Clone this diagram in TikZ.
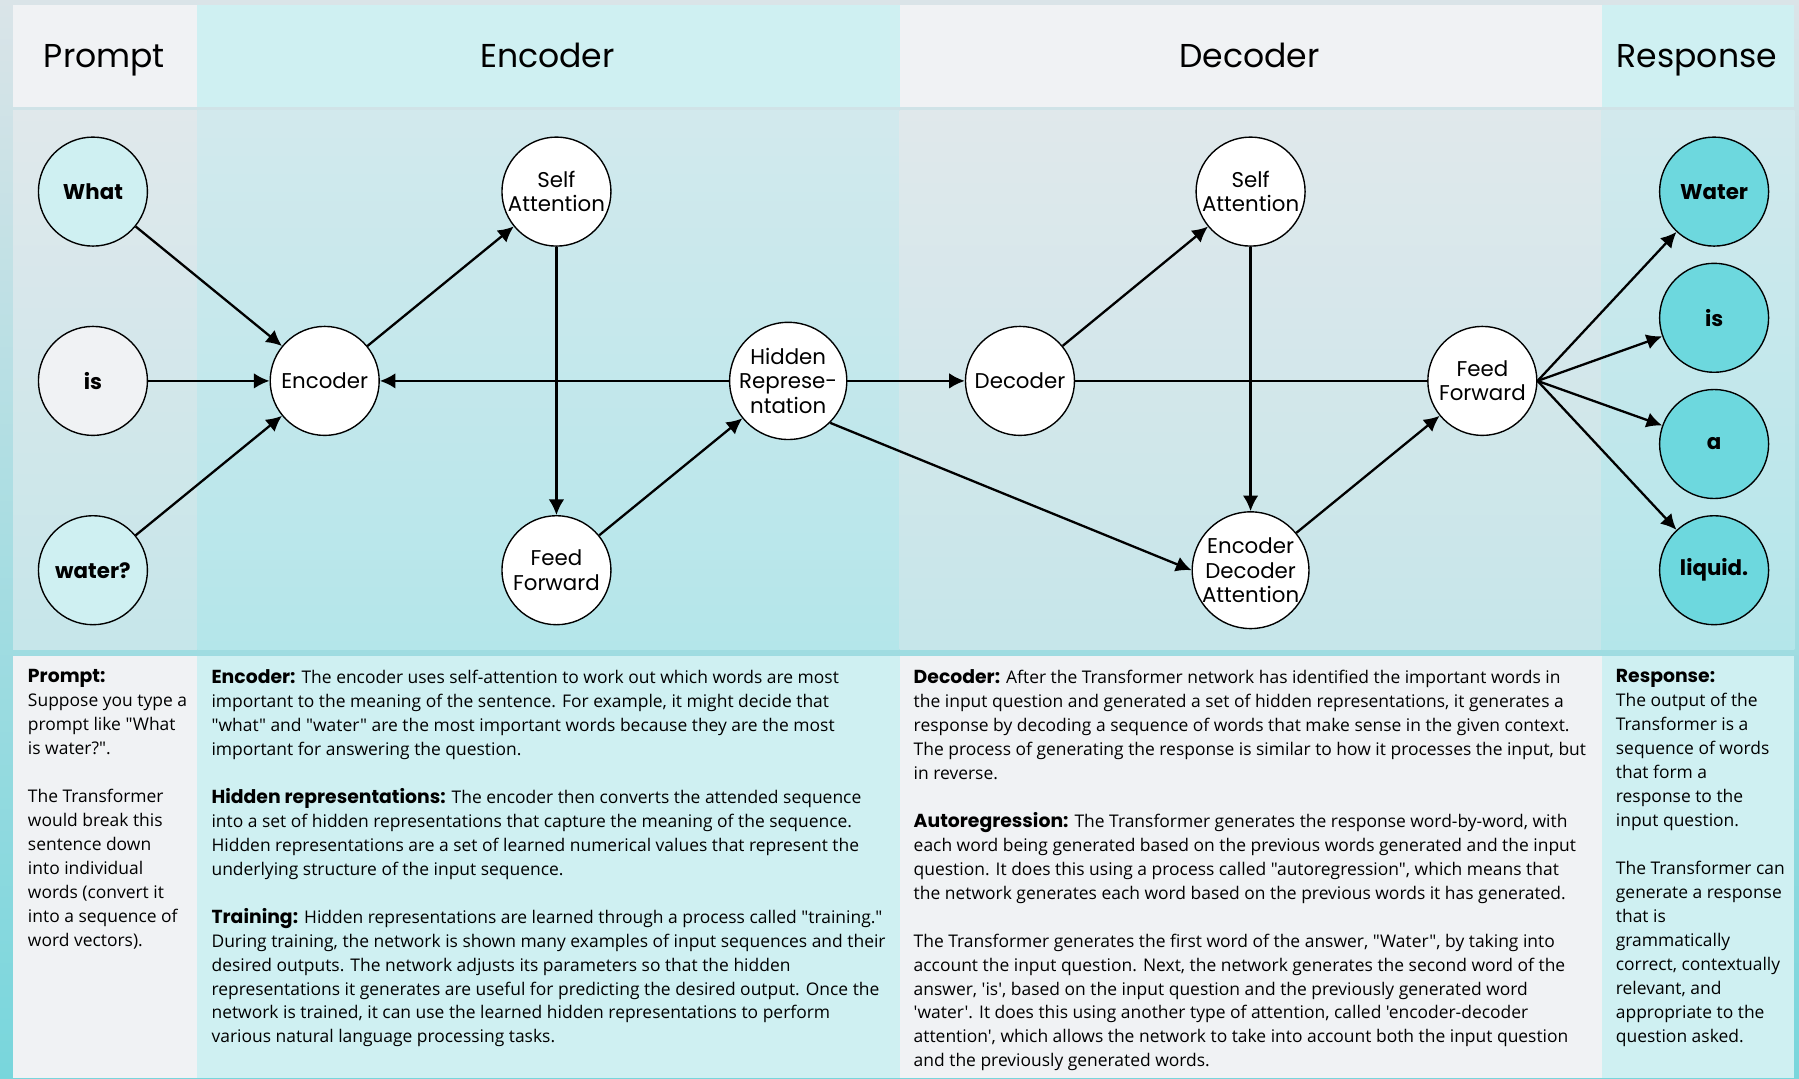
\documentclass[tikz,border=0pt]{standalone}
\usepackage{fontspec}
\setmainfont{Open Sans}[Ligatures=TeXOff]
\newfontfamily\popfont{Poppins}
\usetikzlibrary{arrows.meta}
\definecolor{paleteal}{HTML}{CFF0F2}
\definecolor{palegray}{HTML}{F0F2F4}
\definecolor{deepteal}{HTML}{6DD8DE}
\definecolor{framegray}{HTML}{DAE4E8}
\definecolor{frameteal}{HTML}{78D6DC}
\definecolor{bandgray}{HTML}{E0E8EB}
\definecolor{bandgraylow}{HTML}{C6E6EA}
\definecolor{bandteal}{HTML}{D2E9ED}
\definecolor{bandteallow}{HTML}{B4E6EA}
\tikzset{
    unit/.style={circle, draw, line width=0.6pt, fill=white, minimum size=47.5pt, inner sep=0pt, align=center, font=\popfont\fontsize{9.3}{10.6}\selectfont},
    word/.style={unit, font=\popfont\bfseries\fontsize{9.3}{11}\selectfont},
    head/.style={anchor=base, font=\popfont\fontsize{14.4}{18}\selectfont},
    note/.style={anchor=north west, inner sep=0pt, align=left, font=\fontsize{7.6}{10.45}\selectfont},
    link/.style={line width=1pt, ->, >={Latex[length=6.8pt,width=6.8pt]}},
}
\newcommand{\boldhead}[1]{{\popfont\bfseries\fontsize{8.2}{10.45}\selectfont #1}}

\begin{document}
\begin{tikzpicture}[x=0.5pt, y=-0.5pt]
    \useasboundingbox (0,0) rectangle (1568,940);
    \shade[top color=framegray, bottom color=frameteal] (0,0) rectangle (1568,940);
    \fill[palegray] (11.5,4) rectangle (172,93);
    \fill[paleteal] (172,4) rectangle (784,93);
    \fill[palegray] (784,4) rectangle (1396,93);
    \fill[paleteal] (1396,4) rectangle (1564,93);
    \shade[top color=bandgray, bottom color=bandgraylow] (11.5,96) rectangle (172,566.5);
    \shade[top color=bandteal, bottom color=bandteallow] (172,96) rectangle (784,566.5);
    \shade[top color=bandgray, bottom color=bandgraylow] (784,96) rectangle (1396,566.5);
    \shade[top color=bandteal, bottom color=bandteallow] (1396,96) rectangle (1564,566.5);
    \fill[palegray] (11.5,572) rectangle (172,940);
    \fill[paleteal] (172,572) rectangle (784,940);
    \fill[palegray] (784,572) rectangle (1396,940);
    \fill[paleteal] (1396,572) rectangle (1564,940);

    \node[head] (prompthead) at (91,59) {Prompt};
    \node[head] (encoderhead) at (477,59) {Encoder};
    \node[head] (decoderhead) at (1089,59) {Decoder};
    \node[head] (responsehead) at (1479,59) {Response};

    \node[word, fill=paleteal] (what) at (81,167) {What};
    \node[word, fill=palegray] (is) at (81,332) {is};
    \node[word, fill=paleteal] (water) at (81,497) {water?};
    \node[unit] (enc) at (283,332) {Encoder};
    \node[unit] (encself) at (485,167) {Self\\Attention};
    \node[unit] (encff) at (485,497) {Feed\\Forward};
    \node[unit] (hidden) at (687,332) {Hidden\\Represe-\\ntation};
    \node[unit] (dec) at (889,332) {Decoder};
    \node[unit] (decself) at (1090,167) {Self\\Attention};
    \node[unit] (encdec) at (1090,497) {Encoder\\Decoder\\Attention};
    \node[unit] (decff) at (1292,332) {Feed\\Forward};
    \foreach \w [count=\i] in {Water,is,a,liquid.}
        \node[word, fill=deepteal] (ans\i) at (1494,57+110*\i) {\w};

    \draw[link] (what) -- (enc);
    \draw[link] (is) -- (enc);
    \draw[link] (water) -- (enc);
    \draw[link] (enc) -- (encself);
    \draw[link] (encself) -- (encff);
    \draw[link] (encff) -- (hidden);
    \draw[link] (hidden) -- (enc);
    \draw[link] (hidden) -- (dec);
    \draw[link] (hidden.-45) -- (encdec.west);
    \draw[line width=0.6pt] (dec) -- (decff);
    \draw[link] (dec) -- (decself);
    \draw[link] (decself) -- (encdec);
    \draw[link] (encdec) -- (decff);
    \foreach \i in {1,...,4}
        \draw[link] (decff.east) -- (ans\i);

    \node[note] (prompttext) at (24,583) {\boldhead{Prompt:}\\Suppose you type a\\prompt like "What\\is water?".\\[10.45pt]The Transformer\\would break this\\sentence down\\into individual\\words (convert it\\into a sequence of\\word vectors).};
    \node[note] (encodertext) at (184,583) {\boldhead{Encoder:} The encoder uses self-attention to work out which words are most\\important to the meaning of the sentence. For example, it might decide that\\"what" and "water" are the most important words because they are the most\\important for answering the question.\\[10.45pt]\boldhead{Hidden representations:} The encoder then converts the attended sequence\\into a set of hidden representations that capture the meaning of the sequence.\\Hidden representations are a set of learned numerical values that represent the\\underlying structure of the input sequence.\\[10.45pt]\boldhead{Training:} Hidden representations are learned through a process called "training."\\During training, the network is shown many examples of input sequences and their\\desired outputs. The network adjusts its parameters so that the hidden\\representations it generates are useful for predicting the desired output. Once the\\network is trained, it can use the learned hidden representations to perform\\various natural language processing tasks.};
    \node[note] (decodertext) at (796,583) {\boldhead{Decoder:} After the Transformer network has identified the important words in\\the input question and generated a set of hidden representations, it generates a\\response by decoding a sequence of words that make sense in the given context.\\The process of generating the response is similar to how it processes the input, but\\in reverse.\\[10.45pt]\boldhead{Autoregression:} The Transformer generates the response word-by-word, with\\each word being generated based on the previous words generated and the input\\question. It does this using a process called "autoregression", which means that\\the network generates each word based on the previous words it has generated.\\[10.45pt]The Transformer generates the first word of the answer, "Water", by taking into\\account the input question. Next, the network generates the second word of the\\answer, 'is', based on the input question and the previously generated word\\'water'. It does this using another type of attention, called 'encoder-decoder\\attention', which allows the network to take into account both the input question\\and the previously generated words.};
    \node[note] (responsetext) at (1408,583) {\boldhead{Response:}\\The output of the\\Transformer is a\\sequence of words\\that form a\\response to the\\input question.\\[10.45pt]The Transformer can\\generate a response\\that is\\grammatically\\correct, contextually\\relevant, and\\appropriate to the\\question asked.};
\end{tikzpicture}
\end{document}
